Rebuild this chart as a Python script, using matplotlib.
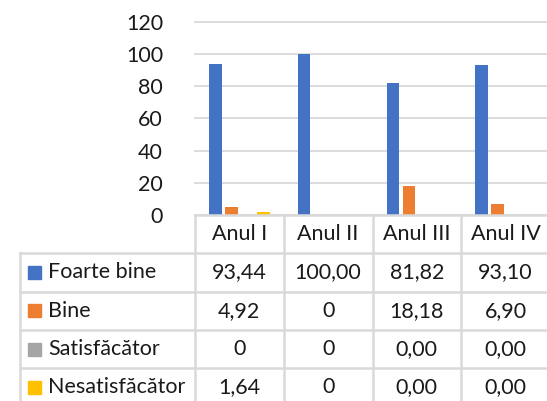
import matplotlib
matplotlib.use("Agg")
import matplotlib.pyplot as plt
import numpy as np

plt.rcParams['font.family'] = ['Lato', 'DejaVu Sans']

years = ['Anul I', 'Anul II', 'Anul III', 'Anul IV']
series = ['Foarte bine', 'Bine', 'Satisfăcător', 'Nesatisfăcător']
foarte_bine = [93.44, 100.00, 81.82, 93.10]
bine = [4.92, 0, 18.18, 6.90]
satisfacator = [0, 0, 0.00, 0.00]
nesatisfacator = [1.64, 0, 0.00, 0.00]
# text as printed in the data table (formatting is not uniform in the source)
table_text = [
    ['93,44', '100,00', '81,82', '93,10'],
    ['4,92', '0', '18,18', '6,90'],
    ['0', '0', '0,00', '0,00'],
    ['1,64', '0', '0,00', '0,00'],
]
colors = ['#4472C4', '#ED7D31', '#A5A5A5', '#FFC000']
yticks = [0, 20, 40, 60, 80, 100, 120]

W, H = 547, 401
fs = 15.5
txt = '#1a1a1a'
fig = plt.figure(figsize=(W / 100, H / 100), dpi=100)

# plot area in pixels
left, right, top, bottom = 195, 550, 21.7, 215
ax = fig.add_axes([left / W, (H - bottom) / H, (right - left) / W, (bottom - top) / H])

values = [foarte_bine, bine, satisfacator, nesatisfacator]
x = np.arange(len(years))
offsets = [-0.27, -0.09, 0.09, 0.27]
for vals, off, c in zip(values, offsets, colors):
    ax.bar(x + off, vals, width=0.14, color=c, zorder=3)

ax.set_xlim(-0.5, len(years) - 0.5)
ax.set_ylim(0, 120)
ax.set_yticks(yticks)
ax.set_xticks([])
ax.tick_params(axis='y', length=0, pad=23, labelsize=fs, colors=txt)
ax.yaxis.grid(True, color='#D9D9D9', linewidth=1.3, zorder=0)
for gl in ax.get_ygridlines():
    gl.set_clip_on(False)
for s in ax.spines.values():
    s.set_visible(False)

# data table below the plot area, aligned with the categories
row_h = 38.3
tax = fig.add_axes([left / W, 0, (right - left) / W, (H - bottom) / H])
tax.set_xlim(-0.5, len(years) - 0.5)
tax.set_ylim((H - bottom) / row_h, 0)
tax.axis('off')
col_px = (right - left) / len(years)
label_left = -0.5 - (left - 20) / col_px
line_kw = dict(color='#D9D9D9', linewidth=1.8, clip_on=False)

tax.plot([-0.5, len(years) - 0.5], [0, 0], **line_kw)
for r in range(1, len(series) + 2):
    tax.plot([label_left, len(years) - 0.5], [r, r], **line_kw)
for c in range(len(years) + 1):
    tax.plot([c - 0.5, c - 0.5], [0, len(series) + 1], **line_kw)
tax.plot([label_left, label_left], [1, len(series) + 1], **line_kw)

for i, name in enumerate(years):
    tax.text(i, 0.5, name, ha='center', va='center', fontsize=fs, color=txt)
sq = 13 / col_px
for r, (name, c) in enumerate(zip(series, colors)):
    y = r + 1.5
    tax.add_patch(plt.Rectangle((label_left + 8 / col_px, y - 6.5 / row_h), sq, 13 / row_h,
                                color=c, clip_on=False))
    tax.text(label_left + 28 / col_px, y, name, ha='left', va='center', fontsize=fs, color=txt)
    for i in range(len(years)):
        tax.text(i, y, table_text[r][i], ha='center', va='center', fontsize=fs, color=txt)

fig.savefig('out.png', dpi=100)
